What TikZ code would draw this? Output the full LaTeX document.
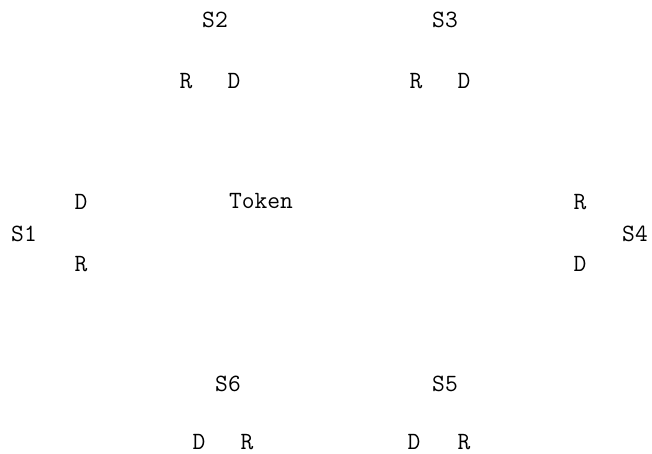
\documentclass[tikz,border=0pt]{standalone}
\usepackage{fontspec}
\usetikzlibrary{positioning}

\begin{document}
\begin{tikzpicture}[
  x=1pt, y=-1pt,
  lbl/.style={inner sep=0pt, font=\ttfamily\fontsize{24.8}{28}\selectfont},
  port/.style={lbl}
]
  \useasboundingbox (0,0) rectangle (652,453);

  % Top stations
  \node[lbl] (s2) at (215,20) {S2};
  \node[lbl] (s3) at (445,20) {S3};
  \node[port] (s2r) at (186,81) {R};
  \node[port] (s2d) at (234,81) {D};
  \node[port] (s3r) at (416,81) {R};
  \node[port] (s3d) at (464,81) {D};

  % Side stations
  \node[lbl] (s1) at (24,234) {S1};
  \node[port] (s1d) at (81,202) {D};
  \node[port] (s1r) at (81,264) {R};
  \node[lbl] (s4) at (635,234) {S4};
  \node[port] (s4r) at (580,202) {R};
  \node[port] (s4d) at (580,264) {D};

  % Token
  \node[lbl] (token) at (261,201) {Token};

  % Bottom stations
  \node[lbl] (s6) at (228,384) {S6};
  \node[lbl] (s5) at (445,384) {S5};
  \node[port] (s6d) at (199,442) {D};
  \node[port] (s6r) at (247,442) {R};
  \node[port] (s5d) at (414,442) {D};
  \node[port] (s5r) at (464,442) {R};
\end{tikzpicture}
\end{document}
